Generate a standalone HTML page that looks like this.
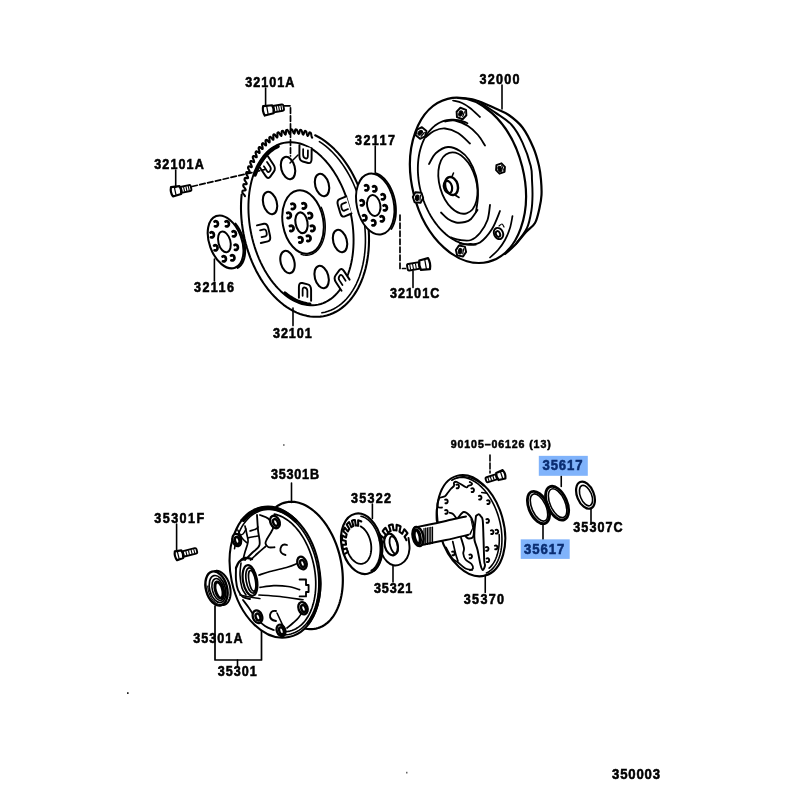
<!DOCTYPE html>
<html><head><meta charset="utf-8">
<style>
html,body{margin:0;padding:0;background:#fff;width:800px;height:800px;overflow:hidden}
svg{display:block}
.t{font-family:"Liberation Sans",sans-serif;font-weight:bold;font-size:13px;fill:#111}
</style></head><body>
<svg style="will-change:transform" width="800" height="800" viewBox="0 0 800 800">
<g stroke="#000" fill="none" stroke-linecap="round" stroke-linejoin="round">
<path d="M315.16 135.26 L318.48 136.99 L321.76 138.95 L325.00 141.16 L328.17 143.59 L331.29 146.24 L334.33 149.11 L337.29 152.19 L340.16 155.46 L342.93 158.93 L345.60 162.57 L348.16 166.38 L350.59 170.35 L352.90 174.47 L355.07 178.73 L357.10 183.11 L358.99 187.60 L360.73 192.20 L362.32 196.88 L363.74 201.63 L365.00 206.45 L366.10 211.31 L367.02 216.21 L367.77 221.12 L368.35 226.04 L368.75 230.96 L368.98 235.86 L369.02 240.72 L368.89 245.53 L368.58 250.28 L368.09 254.96 L367.43 259.55 L366.59 264.04 L365.59 268.42 L364.41 272.67 L363.07 276.78 L361.57 280.75 L359.90 284.56 L358.09 288.19 L356.13 291.65 L354.03 294.92 L351.79 297.99 L349.42 300.85 L346.92 303.50 L344.31 305.92 L341.60 308.12 L338.77 310.08 L335.86 311.79 L332.86 313.27 L329.78 314.49 L326.63 315.46 L323.42 316.18 L320.17 316.63 L316.86 316.83 L313.53 316.77 L310.17 316.45 L306.80 315.86 L303.42 315.03 L300.05 313.94 L296.69 312.59 L293.36 311.00 L290.05 309.17 L286.79 307.09 L283.58 304.79 L280.43 302.25 L277.34 299.50 L274.34 296.54 L271.42 293.38 L268.59 290.01 L265.86 286.47 L263.25 282.75 L260.74 278.86 L258.37 274.82 L256.12 270.64 L254.00 266.33 L252.03 261.90 L250.21 257.36 L248.54 252.72 L247.03 248.01 L245.67 243.23 L244.49 238.39 L243.47 233.51 L242.62 228.60 L241.95 223.68 L241.45 218.76 L241.13 213.85 L240.98 208.97 L241.01 204.13 L241.23 199.34 L241.62 194.62" stroke-width="2.07" />
<path d="M319.40 141.63 L322.45 143.67 L325.46 145.92 L328.41 148.39 L331.29 151.06 L334.10 153.94 L336.84 157.00 L339.48 160.24 L342.03 163.66 L344.48 167.24 L346.82 170.98 L349.05 174.86 L351.16 178.88 L353.14 183.01 L354.98 187.26 L356.69 191.61 L358.26 196.04 L359.69 200.55 L360.96 205.12 L362.08 209.75 L363.04 214.41 L363.85 219.09 L364.49 223.79 L364.97 228.49 L365.28 233.17 L365.43 237.82 L365.42 242.44 L365.24 247.01 L364.89 251.51 L364.38 255.93 L363.71 260.27 L362.87 264.50 L361.88 268.62 L360.73 272.62 L359.43 276.49 L357.98 280.20 L356.38 283.77 L354.65 287.16 L352.78 290.39 L350.77 293.43 L348.64 296.28 L346.39 298.93 L344.03 301.37 L341.56 303.60 L338.99 305.61 L336.33 307.39 L333.58 308.94 L330.76 310.26 L327.86 311.35 L324.90 312.19 L321.88 312.79" stroke-width="1.59" />
<path d="M244.94 196.21 L244.64 195.41 L243.77 194.33 L242.68 193.12 L242.32 192.25 L242.40 191.59 L242.48 190.93 L242.99 190.50 L244.22 190.47 L245.24 190.35 L245.68 189.93 L245.42 189.10 L244.59 187.94 L243.55 186.63 L243.23 185.73 L243.34 185.09 L243.46 184.45 L243.99 184.09 L245.24 184.20 L246.28 184.19 L246.74 183.83 L246.52 182.99 L245.74 181.75 L244.76 180.34 L244.49 179.43 L244.63 178.81 L244.78 178.19 L245.34 177.89 L246.60 178.14 L247.64 178.25 L248.13 177.95 L247.95 177.10 L247.23 175.79 L246.30 174.30 L246.07 173.36 L246.25 172.77 L246.43 172.18 L247.01 171.95 L248.27 172.34 L249.32 172.57 L249.83 172.32 L249.69 171.46 L249.03 170.10 L248.17 168.52 L247.99 167.58 L248.19 167.02 L248.41 166.46 L249.01 166.30 L250.26 166.82 L251.31 167.16 L251.84 166.97 L251.74 166.11 L251.14 164.70 L250.35 163.05 L250.21 162.10 L250.45 161.57 L250.70 161.05 L251.31 160.96 L252.55 161.61 L253.59 162.06 L254.14 161.94 L254.09 161.08 L253.55 159.62 L252.84 157.92 L252.75 156.97 L253.01 156.47 L253.29 155.98 L253.91 155.96 L255.13 156.74 L256.16 157.30 L256.72 157.24 L256.71 156.40 L256.24 154.90 L255.61 153.14 L255.57 152.20 L255.86 151.74 L256.16 151.29 L256.80 151.34 L257.99 152.25 L259.00 152.91 L259.57 152.92 L259.60 152.08 L259.21 150.56 L258.66 148.76 L258.66 147.82 L258.98 147.41 L259.31 147.00 L259.95 147.12 L261.11 148.14 L262.10 148.91 L262.67 148.98 L262.75 148.16 L262.42 146.62 L261.96 144.79 L262.01 143.87 L262.36 143.50 L262.71 143.13 L263.35 143.32 L264.47 144.46 L265.43 145.33 L266.01 145.46 L266.12 144.66 L265.87 143.10 L265.50 141.25 L265.60 140.35 L265.97 140.03 L266.34 139.71 L266.98 139.96 L268.05 141.21 L268.98 142.17 L269.56 142.36 L269.72 141.59 L269.54 140.04 L269.26 138.17 L269.40 137.30 L269.79 137.02 L270.19 136.74 L270.82 137.07 L271.84 138.41 L272.73 139.47 L273.30 139.72 L273.50 138.98 L273.41 137.43 L273.21 135.56 L273.40 134.72 L273.81 134.49 L274.23 134.26 L274.85 134.65 L275.81 136.09 L276.66 137.23 L277.23 137.54 L277.46 136.83 L277.45 135.30 L277.35 133.44 L277.58 132.63 L278.01 132.45 L278.44 132.28 L279.04 132.73 L279.95 134.25 L280.74 135.46 L281.30 135.84 L281.58 135.17 L281.64 133.65 L281.63 131.82 L281.91 131.05 L282.35 130.92 L282.79 130.79 L283.38 131.31 L284.22 132.91 L284.96 134.19 L285.51 134.61 L285.82 133.99 L285.96 132.51 L286.05 130.70 L286.37 129.98 L286.82 129.90 L287.27 129.82 L287.84 130.39 L288.60 132.06 L289.29 133.40 L289.82 133.89 L290.17 133.31 L290.39 131.86 L290.57 130.09 L290.93 129.42 L291.39 129.39 L291.85 129.37 L292.40 130.00 L293.08 131.72 L293.71 133.12 L294.22 133.65 L294.60 133.12 L294.89 131.73 L295.16 130.01 L295.56 129.38 L296.03 129.41 L296.50 129.44 L297.02 130.12 L297.63 131.89 L298.19 133.33 L298.68 133.92 L299.09 133.44 L299.46 132.10 L299.82 130.44 L300.25 129.87 L300.72 129.94 L301.20 130.03 L301.69 130.75 L302.21 132.56 L302.71 134.05 L303.17 134.68 L303.61 134.25 L304.05 132.97 L304.50 131.38 L304.97 130.87 L305.44 131.00 L305.91 131.13 L306.38 131.90 L306.81 133.74 L307.24 135.26 L307.67 135.93 L308.14 135.56 L308.65 134.35 L309.19 132.83 L309.68 132.38 L310.16 132.56 L310.63 132.75 L311.05 133.56 L311.40 135.42 L311.75 136.95 L312.16 137.66" stroke-width="2.07"/>
<path d="M350.69 213.19 L351.52 217.44 L352.21 221.70 L352.77 225.97 L353.18 230.24 L353.45 234.48 L353.57 238.70 L353.55 242.88 L353.39 247.00 L353.08 251.06 L352.63 255.05 L352.04 258.95 L351.31 262.75 L350.44 266.45 L349.43 270.03 L348.29 273.48 L347.03 276.80 L345.63 279.97 L344.12 282.99 L342.48 285.84 L340.74 288.52 L338.88 291.03 L336.92 293.35 L334.86 295.48 L332.71 297.42 L330.47 299.15 L328.15 300.68 L325.76 301.99 L323.29 303.10 L320.77 303.98 L318.19 304.64 L315.57 305.08 L312.91 305.30 L310.21 305.30 L307.49 305.07 L304.75 304.62 L302.00 303.95 L299.24 303.05 L296.50 301.95 L293.76 300.62 L291.05 299.09 L288.36 297.34 L285.70 295.40 L283.09 293.26 L280.53 290.93 L278.02 288.42 L275.58 285.73 L273.20 282.87 L270.91 279.84 L268.69 276.67 L266.56 273.34 L264.53 269.89 L262.60 266.30 L260.77 262.60 L259.06 258.79 L257.45 254.89 L255.97 250.90 L254.61 246.84 L253.38 242.71 L252.28 238.53 L251.31 234.31 L250.48 230.06 L249.79 225.80 L249.23 221.53 L248.82 217.26 L248.55 213.02 L248.43 208.80 L248.45 204.62 L248.61 200.50 L248.92 196.44 L249.37 192.45 L249.96 188.55 L250.69 184.75 L251.56 181.05 L252.57 177.47 L253.71 174.02 L254.97 170.70 L256.37 167.53 L257.88 164.51 L259.52 161.66 L261.26 158.98 L263.12 156.47 L265.08 154.15 L267.14 152.02 L269.29 150.08 L271.53 148.35 L273.85 146.82 L276.24 145.51 L278.71 144.40 L281.23 143.52 L283.81 142.86 L286.43 142.42 L289.09 142.20 L291.79 142.20 L294.51 142.43 L297.25 142.88 L300.00 143.55 L302.76 144.45 L305.50 145.55 L308.24 146.88 L310.95 148.41 L313.64 150.16 L316.30 152.10 L318.91 154.24 L321.47 156.57 L323.98 159.08 L326.42 161.77 L328.80 164.63 L331.09 167.66 L333.31 170.83 L335.44 174.16 L337.47 177.61 L339.40 181.20 L341.23 184.90 L342.94 188.71 L344.55 192.61 L346.03 196.60 L347.39 200.66 L348.62 204.79 L349.72 208.97 L350.69 213.19" stroke-width="1.95" />
<path d="M254.98 174.85 L256.26 171.48 L257.67 168.26 L259.21 165.21 L260.87 162.32 L262.65 159.62 L264.54 157.10 L266.54 154.77 L268.64 152.64 L270.83 150.73 L273.12 149.02 L275.49 147.53 L277.93 146.27" stroke-width="3.66" />
<path d="M309.88 304.05 L307.09 303.73 L304.29 303.17 L301.48 302.38 L298.67 301.36 L295.86 300.11 L293.08 298.63 L290.32 296.93 L287.59 295.01 L284.91 292.88" stroke-width="3.17" />
<ellipse cx="288.00" cy="168.00" rx="6.80" ry="11.50" transform="rotate(-15.00 288.00 168.00)" stroke-width="2.07" />
<ellipse cx="322.00" cy="185.00" rx="6.80" ry="11.50" transform="rotate(-15.00 322.00 185.00)" stroke-width="2.07" />
<ellipse cx="270.00" cy="203.00" rx="6.80" ry="11.50" transform="rotate(-15.00 270.00 203.00)" stroke-width="2.07" />
<ellipse cx="340.00" cy="241.00" rx="6.80" ry="11.50" transform="rotate(-15.00 340.00 241.00)" stroke-width="2.07" />
<ellipse cx="287.50" cy="262.00" rx="6.80" ry="11.50" transform="rotate(-15.00 287.50 262.00)" stroke-width="2.07" />
<ellipse cx="321.60" cy="277.00" rx="6.80" ry="11.50" transform="rotate(-15.00 321.60 277.00)" stroke-width="2.07" />
<ellipse cx="303.00" cy="222.00" rx="20.30" ry="32.00" transform="rotate(-10.00 303.00 222.00)" stroke-width="1.95" />
<path d="M321.18 207.16 L321.83 208.75 L322.43 210.37 L322.98 212.03 L323.46 213.71 L323.90 215.42 L324.27 217.15 L324.58 218.88 L324.84 220.63 L325.03 222.38 L325.16 224.14 L325.23 225.88 L325.24 227.61 L325.18 229.33 L325.07 231.03 L324.89 232.70 L324.65 234.35 L324.36 235.96 L324.00 237.52 L323.58 239.05 L323.11 240.53 L322.58 241.96 L322.00 243.33 L321.36 244.64 L320.67 245.89 L319.93 247.08 L319.15 248.19 L318.32 249.23 L317.45 250.19 L316.54 251.08 L315.59 251.89 L314.60 252.61 L313.58 253.24 L312.54 253.79 L311.47 254.26 L310.37 254.63 L309.25 254.91 L308.12 255.10 L306.97 255.19 L305.81 255.20 L304.64 255.11 L303.47 254.93 L302.30 254.66 L301.12 254.30" stroke-width="1.46" />
<ellipse cx="301.50" cy="222.75" rx="6.00" ry="10.50" transform="rotate(-10.00 301.50 222.75)" stroke-width="2.07" />
<path d="M291.43 203.98 a2.42 2.73 0 1 1 0.42 4.94" stroke-width="2.81" />
<path d="M302.43 203.48 a2.42 2.73 0 1 1 0.42 4.94" stroke-width="2.81" />
<path d="M308.43 213.23 a2.42 2.73 0 1 1 0.42 4.94" stroke-width="2.81" />
<path d="M310.93 225.98 a2.42 2.73 0 1 1 0.42 4.94" stroke-width="2.81" />
<path d="M306.93 235.98 a2.42 2.73 0 1 1 0.42 4.94" stroke-width="2.81" />
<path d="M298.93 237.48 a2.42 2.73 0 1 1 0.42 4.94" stroke-width="2.81" />
<path d="M289.93 225.98 a2.42 2.73 0 1 1 0.42 4.94" stroke-width="2.81" />
<path d="M287.23 212.98 a2.42 2.73 0 1 1 0.42 4.94" stroke-width="2.81" />
<g transform="translate(305.00 223.50) rotate(-12.00) scale(0.659 1) translate(22.51 -67.39) rotate(18.47)">
<path vector-effect="non-scaling-stroke" d="M-9.0 -8.0 L-9.0 3.0 Q-9.0 8.0 -4.0 8.0 L4.0 8.0 Q9.0 8.0 9.0 3.0 L9.0 -8.0" stroke-width="1.95" fill="#fff"/>
<path vector-effect="non-scaling-stroke" d="M-3.5 -5.0 L-3.5 1 Q-3.5 4 0 4 Q3.5 4 3.5 1 L3.5 -5.0" stroke-width="1.76"/>
</g>
<g transform="translate(305.00 223.50) rotate(-12.00) scale(0.659 1) translate(-37.41 -61.98) rotate(-31.11)">
<path vector-effect="non-scaling-stroke" d="M-9.0 -8.0 L-9.0 3.0 Q-9.0 8.0 -4.0 8.0 L4.0 8.0 Q9.0 8.0 9.0 3.0 L9.0 -8.0" stroke-width="1.95" fill="#fff"/>
<path vector-effect="non-scaling-stroke" d="M-3.5 -5.0 L-3.5 1 Q-3.5 4 0 4 Q3.5 4 3.5 1 L3.5 -5.0" stroke-width="1.76"/>
</g>
<g transform="translate(305.00 223.50) rotate(-12.00) scale(0.659 1) translate(63.09 -8.03) rotate(82.75)">
<path vector-effect="non-scaling-stroke" d="M-9.0 -8.0 L-9.0 3.0 Q-9.0 8.0 -4.0 8.0 L4.0 8.0 Q9.0 8.0 9.0 3.0 L9.0 -8.0" stroke-width="1.95" fill="#fff"/>
<path vector-effect="non-scaling-stroke" d="M-3.5 -5.0 L-3.5 1 Q-3.5 4 0 4 Q3.5 4 3.5 1 L3.5 -5.0" stroke-width="1.76"/>
</g>
<g transform="translate(305.00 223.50) rotate(-12.00) scale(0.659 1) translate(-63.85 0.77) rotate(-90.69)">
<path vector-effect="non-scaling-stroke" d="M-9.0 -8.0 L-9.0 3.0 Q-9.0 8.0 -4.0 8.0 L4.0 8.0 Q9.0 8.0 9.0 3.0 L9.0 -8.0" stroke-width="1.95" fill="#fff"/>
<path vector-effect="non-scaling-stroke" d="M-3.5 -5.0 L-3.5 1 Q-3.5 4 0 4 Q3.5 4 3.5 1 L3.5 -5.0" stroke-width="1.76"/>
</g>
<g transform="translate(305.00 223.50) rotate(-12.00) scale(0.659 1) translate(36.67 61.88) rotate(149.35)">
<path vector-effect="non-scaling-stroke" d="M-9.0 -8.0 L-9.0 3.0 Q-9.0 8.0 -4.0 8.0 L4.0 8.0 Q9.0 8.0 9.0 3.0 L9.0 -8.0" stroke-width="1.95" fill="#fff"/>
<path vector-effect="non-scaling-stroke" d="M-3.5 -5.0 L-3.5 1 Q-3.5 4 0 4 Q3.5 4 3.5 1 L3.5 -5.0" stroke-width="1.76"/>
</g>
<g transform="translate(305.00 223.50) rotate(-12.00) scale(0.659 1) translate(-21.45 66.51) rotate(-162.12)">
<path vector-effect="non-scaling-stroke" d="M-9.0 -8.0 L-9.0 3.0 Q-9.0 8.0 -4.0 8.0 L4.0 8.0 Q9.0 8.0 9.0 3.0 L9.0 -8.0" stroke-width="1.95" fill="#fff"/>
<path vector-effect="non-scaling-stroke" d="M-3.5 -5.0 L-3.5 1 Q-3.5 4 0 4 Q3.5 4 3.5 1 L3.5 -5.0" stroke-width="1.76"/>
</g>
<line x1="290.00" y1="163.00" x2="298.00" y2="155.00" stroke-width="1.46" />
<g transform="translate(263.00 111.00) rotate(-10.00)">
<rect x="9.00" y="-3.20" width="12.00" height="6.40" rx="1.5" stroke-width="1.87" fill="#fff"/>
<line x1="11.50" y1="-2.20" x2="11.50" y2="2.20" stroke-width="1.10" />
<line x1="13.88" y1="-2.20" x2="13.88" y2="2.20" stroke-width="1.10" />
<line x1="16.25" y1="-2.20" x2="16.25" y2="2.20" stroke-width="1.10" />
<line x1="18.62" y1="-2.20" x2="18.62" y2="2.20" stroke-width="1.10" />
<path d="M1 -4.80 Q-1 0 1 4.80 L10.00 4.08 Q11.50 0 10.00 -4.08 Z" stroke-width="2.20" fill="#fff"/>
<line x1="4.50" y1="-4.20" x2="4.50" y2="4.20" stroke-width="1.22" />
</g>
<line x1="265.60" y1="88.00" x2="265.60" y2="106.00" stroke-width="1.59" />
<path d="M284.5 105.8 H290.5 V156" stroke-width="1.71" stroke-dasharray="5.5 2.5"/>
<g transform="translate(171.00 192.00) rotate(-12.00)">
<rect x="8.50" y="-3.00" width="12.00" height="6.00" rx="1.5" stroke-width="1.87" fill="#fff"/>
<line x1="11.00" y1="-2.00" x2="11.00" y2="2.00" stroke-width="1.10" />
<line x1="13.38" y1="-2.00" x2="13.38" y2="2.00" stroke-width="1.10" />
<line x1="15.75" y1="-2.00" x2="15.75" y2="2.00" stroke-width="1.10" />
<line x1="18.12" y1="-2.00" x2="18.12" y2="2.00" stroke-width="1.10" />
<path d="M1 -4.80 Q-1 0 1 4.80 L9.50 4.08 Q11.00 0 9.50 -4.08 Z" stroke-width="2.20" fill="#fff"/>
<line x1="4.28" y1="-4.20" x2="4.28" y2="4.20" stroke-width="1.22" />
</g>
<line x1="175.70" y1="170.00" x2="175.70" y2="187.50" stroke-width="1.59" />
<path d="M192 186.5 L265 169.5" stroke-width="1.71" stroke-dasharray="5.5 2.5"/>
<ellipse cx="225.60" cy="241.90" rx="16.20" ry="27.50" transform="rotate(-20.00 225.60 241.90)" stroke-width="2.07" />
<path d="M235.45 223.67 L236.29 224.76 L237.11 225.89 L237.90 227.07 L238.66 228.29 L239.38 229.55 L240.07 230.84 L240.72 232.16 L241.33 233.51 L241.90 234.88 L242.43 236.28 L242.91 237.68 L243.35 239.10 L243.74 240.53 L244.09 241.96 L244.38 243.39 L244.63 244.82 L244.82 246.24 L244.96 247.65 L245.06 249.04 L245.10 250.41 L245.09 251.76 L245.03 253.08 L244.91 254.37 L244.75 255.62 L244.53 256.84 L244.27 258.01 L243.95 259.14 L243.59 260.22 L243.18 261.25 L242.72 262.23 L242.22 263.14 L241.68 264.00 L241.09 264.80 L240.46 265.54 L239.80 266.21 L239.09 266.81 L238.35 267.34 L237.58 267.80" stroke-width="2.07" />
<ellipse cx="224.40" cy="241.90" rx="6.00" ry="10.60" transform="rotate(-15.00 224.40 241.90)" stroke-width="1.95" />
<path d="M214.50 221.60 a2.30 2.60 0 1 1 0.40 4.70" stroke-width="2.68" />
<path d="M225.50 221.60 a2.30 2.60 0 1 1 0.40 4.70" stroke-width="2.68" />
<path d="M232.50 231.60 a2.30 2.60 0 1 1 0.40 4.70" stroke-width="2.68" />
<path d="M234.50 245.10 a2.30 2.60 0 1 1 0.40 4.70" stroke-width="2.68" />
<path d="M231.00 255.60 a2.30 2.60 0 1 1 0.40 4.70" stroke-width="2.68" />
<path d="M222.50 256.60 a2.30 2.60 0 1 1 0.40 4.70" stroke-width="2.68" />
<path d="M214.10 245.60 a2.30 2.60 0 1 1 0.40 4.70" stroke-width="2.68" />
<path d="M210.50 232.60 a2.30 2.60 0 1 1 0.40 4.70" stroke-width="2.68" />
<line x1="214.40" y1="259.00" x2="214.40" y2="281.00" stroke-width="1.59" />
<ellipse cx="375.25" cy="204.00" rx="18.50" ry="31.00" transform="rotate(-12.00 375.25 204.00)" stroke-width="1.95" fill="#fff"/>
<path d="M376.39 173.42 L377.43 173.83 L378.47 174.32 L379.50 174.89 L380.52 175.55 L381.53 176.28 L382.53 177.10 L383.51 177.98 L384.46 178.94 L385.40 179.97 L386.31 181.07 L387.19 182.23 L388.04 183.45 L388.86 184.72 L389.64 186.05 L390.38 187.44 L391.09 188.86 L391.75 190.33 L392.38 191.84 L392.95 193.38 L393.48 194.95 L393.97 196.55 L394.40 198.16 L394.78 199.80 L395.11 201.44 L395.39 203.09 L395.61 204.75 L395.79 206.40 L395.90 208.05 L395.96 209.68 L395.97 211.30 L395.92 212.90 L395.82 214.47 L395.67 216.01 L395.45 217.52 L395.19 219.00 L394.87 220.43 L394.50 221.81 L394.08 223.15 L393.61 224.43 L393.10 225.66 L392.53 226.83 L391.92 227.93 L391.27 228.96" stroke-width="1.83" />
<ellipse cx="373.75" cy="205.50" rx="6.60" ry="10.50" transform="rotate(-10.00 373.75 205.50)" stroke-width="1.95" />
<path d="M365.00 185.60 a2.30 2.60 0 1 1 0.40 4.70" stroke-width="2.68" />
<path d="M373.00 186.60 a2.30 2.60 0 1 1 0.40 4.70" stroke-width="2.68" />
<path d="M381.50 194.60 a2.30 2.60 0 1 1 0.40 4.70" stroke-width="2.68" />
<path d="M383.50 205.60 a2.30 2.60 0 1 1 0.40 4.70" stroke-width="2.68" />
<path d="M380.50 216.60 a2.30 2.60 0 1 1 0.40 4.70" stroke-width="2.68" />
<path d="M372.00 220.60 a2.30 2.60 0 1 1 0.40 4.70" stroke-width="2.68" />
<path d="M363.00 215.60 a2.30 2.60 0 1 1 0.40 4.70" stroke-width="2.68" />
<path d="M360.50 200.60 a2.30 2.60 0 1 1 0.40 4.70" stroke-width="2.68" />
<line x1="375.25" y1="146.00" x2="375.25" y2="173.00" stroke-width="1.59" />
<g transform="translate(430.00 263.50) rotate(170.00)">
<rect x="9.00" y="-3.30" width="14.00" height="6.60" rx="1.5" stroke-width="1.87" fill="#fff"/>
<line x1="11.50" y1="-2.30" x2="11.50" y2="2.30" stroke-width="1.10" />
<line x1="14.38" y1="-2.30" x2="14.38" y2="2.30" stroke-width="1.10" />
<line x1="17.25" y1="-2.30" x2="17.25" y2="2.30" stroke-width="1.10" />
<line x1="20.12" y1="-2.30" x2="20.12" y2="2.30" stroke-width="1.10" />
<path d="M1 -5.60 Q-1 0 1 5.60 L10.00 4.76 Q11.50 0 10.00 -4.76 Z" stroke-width="2.20" fill="#fff"/>
<line x1="4.50" y1="-5.00" x2="4.50" y2="5.00" stroke-width="1.22" />
</g>
<path d="M400 215 V268.5 H405.5" stroke-width="1.71" stroke-dasharray="5.5 2.5"/>
<line x1="413.00" y1="271.00" x2="413.00" y2="287.50" stroke-width="1.59" />
<line x1="293.00" y1="308.00" x2="293.00" y2="325.60" stroke-width="1.59" />
<path d="M458.00 98.00 C460.83 98.33 468.83 98.29 475.00 100.00 C481.17 101.71 489.38 105.75 495.00 108.25 C500.62 110.75 504.17 111.79 508.75 115.00 C513.33 118.21 518.38 122.00 522.50 127.50 C526.62 133.00 530.75 141.58 533.50 148.00 C536.25 154.42 537.75 160.67 539.00 166.00 C540.25 171.33 540.58 175.17 541.00 180.00 C541.42 184.83 541.75 190.33 541.50 195.00 C541.25 199.67 540.58 203.33 539.50 208.00 C538.42 212.67 537.25 219.00 535.00 223.00 C532.75 227.00 529.33 228.33 526.00 232.00 C522.67 235.67 518.50 241.33 515.00 245.00 C511.50 248.67 506.67 252.50 505.00 254.00" stroke-width="2.20" />
<path d="M478.00 101.00 C480.83 102.90 489.42 108.44 495.00 112.40 C500.58 116.36 506.92 119.72 511.50 124.75 C516.08 129.78 519.29 135.72 522.50 142.60 C525.71 149.47 529.17 159.77 530.75 166.00 C532.33 172.23 531.71 175.17 532.00 180.00 C532.29 184.83 532.58 190.00 532.50 195.00 C532.42 200.00 532.42 204.50 531.50 210.00 C530.58 215.50 529.58 222.33 527.00 228.00 C524.42 233.67 517.83 241.33 516.00 244.00" stroke-width="1.95" />
<ellipse cx="467.98" cy="180.37" rx="55.94" ry="84.02" transform="rotate(-14.00 467.98 180.37)" stroke-width="2.20" />
<path d="M475.80 244.68 L473.57 244.91 L471.31 244.96 L469.02 244.85 L466.71 244.56 L464.39 244.10 L462.06 243.47 L459.74 242.66 L457.41 241.70 L455.11 240.56 L452.82 239.27 L450.56 237.82 L448.32 236.21 L446.13 234.46 L443.98 232.56 L441.89 230.52 L439.84 228.35 L437.86 226.05 L435.95 223.63 L434.11 221.09 L432.34 218.45 L430.66 215.71 L429.07 212.87 L427.57 209.95 L426.16 206.96 L424.85 203.89 L423.65 200.77 L422.55 197.60 L421.56 194.38 L420.68 191.13 L419.92 187.85 L419.27 184.56 L418.75 181.27 L418.34 177.97 L418.06 174.69 L417.89 171.43 L417.85 168.20 L417.93 165.01 L418.13 161.86 L418.46 158.77 L418.91 155.75 L419.47 152.80 L420.15 149.94 L420.95 147.16 L421.87 144.48 L422.89 141.90 L424.03 139.44 L425.26 137.10 L426.60 134.88 L428.04 132.79 L429.58 130.83 L431.20 129.03 L432.91 127.36 L434.70 125.85 L436.56 124.50 L438.50 123.31 L440.50 122.28 L442.56 121.41 L444.68 120.72 L446.84 120.19 L449.05 119.84 L451.29 119.66 L453.56 119.65 L455.86 119.82 L458.17 120.16 L460.49 120.67 L462.82 121.35 L465.15 122.20 L467.46 123.22" stroke-width="1.83" />
<path d="M453.00 100.50 C454.50 100.92 459.17 101.75 462.00 103.00 C464.83 104.25 467.00 105.67 470.00 108.00 C473.00 110.33 478.33 115.50 480.00 117.00" stroke-width="1.71" />
<path d="M426.00 137.00 C427.33 136.00 430.83 132.42 434.00 131.00 C437.17 129.58 441.00 128.17 445.00 128.50 C449.00 128.83 453.83 130.50 458.00 133.00 C462.17 135.50 468.00 141.75 470.00 143.50" stroke-width="1.83" />
<path d="M445.00 121.50 C446.67 121.33 451.17 119.75 455.00 120.50 C458.83 121.25 464.17 123.58 468.00 126.00 C471.83 128.42 475.17 131.75 478.00 135.00 C480.83 138.25 483.83 143.75 485.00 145.50" stroke-width="1.83" />
<path d="M429.00 164.00 C430.17 162.17 432.83 155.83 436.00 153.00 C439.17 150.17 444.00 147.33 448.00 147.00 C452.00 146.67 456.50 148.83 460.00 151.00 C463.50 153.17 466.33 155.83 469.00 160.00 C471.67 164.17 474.50 170.17 476.00 176.00 C477.50 181.83 478.00 189.00 478.00 195.00 C478.00 201.00 476.33 209.17 476.00 212.00" stroke-width="1.83" />
<ellipse cx="457.90" cy="183.10" rx="18.30" ry="31.40" transform="rotate(-16.00 457.90 183.10)" stroke-width="1.83" />
<path d="M441.00 212.50 C442.17 213.58 445.50 217.33 448.00 219.00 C450.50 220.67 453.17 222.00 456.00 222.50 C458.83 223.00 462.50 222.58 465.00 222.00 C467.50 221.42 468.92 221.00 471.00 219.00 C473.08 217.00 476.42 211.50 477.50 210.00" stroke-width="1.83" />
<path d="M451.00 237.50 C452.50 237.92 456.67 239.58 460.00 240.00 C463.33 240.42 467.67 241.17 471.00 240.00 C474.33 238.83 477.25 236.33 480.00 233.00 C482.75 229.67 485.83 224.67 487.50 220.00 C489.17 215.33 489.58 207.50 490.00 205.00" stroke-width="1.83" />
<path d="M460.00 243.75 C461.67 243.79 466.67 244.21 470.00 244.00 C473.33 243.79 476.33 245.00 480.00 242.50 C483.67 240.00 488.67 234.25 492.00 229.00 C495.33 223.75 498.67 214.00 500.00 211.00" stroke-width="1.83" />
<path d="M490.00 257.50 C491.33 256.25 495.50 252.92 498.00 250.00 C500.50 247.08 503.00 243.67 505.00 240.00 C507.00 236.33 508.75 232.00 510.00 228.00 C511.25 224.00 512.08 218.00 512.50 216.00" stroke-width="1.71" />
<ellipse cx="451.50" cy="186.00" rx="6.30" ry="9.20" transform="rotate(-15.00 451.50 186.00)" stroke-width="2.44" fill="#fff"/>
<ellipse cx="448.00" cy="187.00" rx="4.00" ry="6.30" transform="rotate(-15.00 448.00 187.00)" stroke-width="2.20" />
<line x1="452.00" y1="176.50" x2="453.50" y2="173.00" stroke-width="1.59" />
<line x1="455.00" y1="195.00" x2="459.00" y2="197.50" stroke-width="1.59" />
<g transform="translate(461.5 113.5) rotate(20.0)">
<path d="M-3.0 -5.0 L3.0 -5.0 L5.2 0 L3.0 5.0 L-3.0 5.0 L-5.2 0 Z" stroke-width="1.95" fill="#fff"/>
<ellipse cx="-0.8" cy="0.3" rx="1.8" ry="2.8" fill="#000" stroke-width="0.98"/>
<path d="M2.2 -2.5 v5" stroke-width="1.22" />
</g>
<g transform="translate(421.0 133.0) rotate(40.0)">
<path d="M-3.0 -5.0 L3.0 -5.0 L5.2 0 L3.0 5.0 L-3.0 5.0 L-5.2 0 Z" stroke-width="1.95" fill="#fff"/>
<ellipse cx="-0.8" cy="0.3" rx="1.8" ry="2.8" fill="#000" stroke-width="0.98"/>
<path d="M2.2 -2.5 v5" stroke-width="1.22" />
</g>
<g transform="translate(418.0 197.5) rotate(5.0)">
<path d="M-3.0 -5.0 L3.0 -5.0 L5.2 0 L3.0 5.0 L-3.0 5.0 L-5.2 0 Z" stroke-width="1.95" fill="#fff"/>
<ellipse cx="-0.8" cy="0.3" rx="1.8" ry="2.8" fill="#000" stroke-width="0.98"/>
<path d="M2.2 -2.5 v5" stroke-width="1.22" />
</g>
<g transform="translate(461.0 251.0) rotate(10.0)">
<path d="M-3.0 -5.0 L3.0 -5.0 L5.2 0 L3.0 5.0 L-3.0 5.0 L-5.2 0 Z" stroke-width="1.95" fill="#fff"/>
<ellipse cx="-0.8" cy="0.3" rx="1.8" ry="2.8" fill="#000" stroke-width="0.98"/>
<path d="M2.2 -2.5 v5" stroke-width="1.22" />
</g>
<g transform="translate(500.5 168.5) rotate(-20.0)">
<path d="M-2.7 -4.5 L2.7 -4.5 L4.7 0 L2.7 4.5 L-2.7 4.5 L-4.7 0 Z" stroke-width="1.95" fill="#fff"/>
<ellipse cx="-0.8" cy="0.3" rx="1.8" ry="2.8" fill="#000" stroke-width="0.98"/>
<path d="M2.2 -2.5 v5" stroke-width="1.22" />
</g>
<ellipse cx="498.50" cy="233.50" rx="4.50" ry="5.80" transform="rotate(-25.00 498.50 233.50)" stroke-width="1.95" fill="#fff"/>
<ellipse cx="498.00" cy="234.00" rx="2.00" ry="3.00" transform="rotate(-25.00 498.00 234.00)" stroke-width="1.95" />
<path d="M499.00 226.00 C499.50 225.67 501.17 223.83 502.00 224.00 C502.83 224.17 503.67 226.50 504.00 227.00" stroke-width="1.22" />
<line x1="502.00" y1="85.00" x2="502.00" y2="109.00" stroke-width="1.59" />
<path d="M276.38 506.70 L278.19 505.49 L280.05 504.45 L281.98 503.57 L283.96 502.86 L285.98 502.33 L288.04 501.97 L290.14 501.78 L292.27 501.77 L294.43 501.93 L296.60 502.26 L298.78 502.77 L300.97 503.45 L303.16 504.30 L305.34 505.32 L307.52 506.50 L309.67 507.85 L311.80 509.35 L313.90 511.00 L315.97 512.81 L317.99 514.76 L319.97 516.85 L321.89 519.07 L323.76 521.42 L325.57 523.89 L327.31 526.47 L328.97 529.16 L330.56 531.95 L332.07 534.84 L333.50 537.80 L334.83 540.84 L336.07 543.95 L337.22 547.12 L338.27 550.34 L339.21 553.60 L340.05 556.89 L340.78 560.21 L341.41 563.54 L341.92 566.87 L342.32 570.20 L342.61 573.52 L342.78 576.82 L342.84 580.08 L342.78 583.31 L342.61 586.49 L342.33 589.60 L341.93 592.66 L341.42 595.64 L340.80 598.53 L340.07 601.34 L339.23 604.04 L338.29 606.64 L337.25 609.13 L336.11 611.50 L334.87 613.74 L333.53 615.85 L332.11 617.82 L330.61 619.65 L329.02 621.33 L327.35 622.85 L325.62 624.22 L323.81 625.43 L321.95 626.47 L320.02 627.35 L318.04 628.06 L316.02 628.59 L313.96 628.95 L311.86 629.14 L309.73 629.15 L307.57 628.99 L305.40 628.66" stroke-width="2.20" />
<ellipse cx="275.04" cy="572.21" rx="44.23" ry="66.30" transform="rotate(-12.00 275.04 572.21)" stroke-width="2.07" fill="#fff"/>
<path d="M243.37 520.18 L245.07 518.23 L246.85 516.44 L248.71 514.81 L250.65 513.34 L252.65 512.03 L254.72 510.90 L256.85 509.93 L259.03 509.15 L261.26 508.54 L263.53 508.12 L265.82 507.87 L268.15 507.81 L270.50 507.93 L272.86 508.23 L275.22 508.71 L277.59 509.38 L279.95 510.22 L282.30 511.23 L284.63 512.42 L286.93 513.78 L289.20 515.30 L291.43 516.99 L293.62 518.83 L295.75 520.82" stroke-width="3.66" />
<path d="M234.54 548.61 L235.06 545.59 L235.70 542.65 L236.45 539.78 L237.30 537.01 L238.27 534.33 L239.34 531.75 L240.51 529.29 L241.78 526.95 L243.15 524.73 L244.60 522.65 L246.15 520.70 L247.78 518.89 L249.48 517.23 L251.26 515.72 L253.11 514.37 L255.02 513.17 L257.00 512.15 L259.02 511.28 L261.09 510.59 L263.21 510.06 L265.36 509.71 L267.54 509.53 L269.74 509.52 L271.97 509.69 L274.20 510.03 L276.44 510.54 L278.68 511.22 L280.91 512.07 L283.13 513.08 L285.33 514.26 L287.51 515.60 L289.65 517.10 L291.76 518.74 L293.82 520.54 L295.84 522.48 L297.80 524.55 L299.70 526.76 L301.54 529.10 L303.31 531.55 L305.00 534.11 L306.61 536.78 L308.14 539.55 L309.58 542.41 L310.93 545.35 L312.19 548.36 L313.34 551.44 L314.39 554.58 L315.34 557.77 L316.17 560.99 L316.90 564.25 L317.52 567.53 L318.02 570.82 L318.40 574.12 L318.67 577.41 L318.82 580.68 L318.86 583.94 L318.77 587.16 L318.57 590.34 L318.26 593.47 L317.82 596.54 L317.27 599.54 L316.61 602.47 L315.84 605.31 L314.95 608.07 L313.96 610.72 L312.87 613.27 L311.67 615.70 L310.38 618.01 L308.99 620.20 L307.51 622.26 L305.95 624.17 L304.30 625.94 L302.58 627.57 L300.78 629.04 L298.91 630.35 L296.99 631.51 L295.00 632.50 L292.97 633.32 L290.88 633.97 L288.76 634.46 L286.60 634.77 L284.41 634.91 L282.20 634.87" stroke-width="1.59" />
<path d="M274.38 514.18 L276.44 514.66 L278.51 515.31 L280.57 516.11 L282.61 517.08 L284.64 518.20 L286.65 519.48 L288.64 520.90 L290.58 522.47 L292.50 524.18 L294.36 526.03 L296.18 528.00 L297.94 530.11 L299.65 532.33 L301.29 534.67 L302.86 537.11 L304.35 539.65 L305.78 542.29 L307.12 545.01 L308.37 547.81 L309.54 550.67 L310.61 553.60 L311.59 556.59 L312.47 559.62 L313.25 562.68 L313.93 565.78 L314.51 568.89 L314.98 572.02 L315.34 575.14 L315.60 578.26 L315.75 581.37 L315.78 584.44 L315.71 587.49 L315.53 590.50 L315.24 593.45 L314.84 596.35 L314.34 599.18 L313.73 601.94 L313.01 604.61 L312.20 607.19 L311.29 609.68 L310.27 612.07 L309.17 614.34 L307.98 616.50 L306.69 618.53 L305.33 620.44 L303.88 622.21 L302.36 623.84 L300.76 625.33 L299.10 626.67 L297.38 627.86 L295.60 628.90 L293.77 629.77 L291.88 630.49 L289.96 631.05 L288.00 631.44 L286.01 631.66" stroke-width="1.71" />
<path d="M319.54 574.74 L319.80 578.26 L319.93 581.77 L319.93 585.25 L319.80 588.69 L319.53 592.08 L319.13 595.41 L318.61 598.67 L317.95 601.86 L317.17 604.96 L316.26 607.96 L315.23 610.86 L314.08 613.65 L312.82 616.31 L311.44 618.84 L309.96 621.23 L308.37 623.48" stroke-width="2.93" />
<path d="M257.00 515.00 C257.17 517.50 257.58 525.00 258.00 530.00 C258.42 535.00 260.50 541.17 259.50 545.00 C258.50 548.83 254.42 550.50 252.00 553.00 C249.58 555.50 246.17 558.83 245.00 560.00" stroke-width="1.83" />
<path d="M245.00 526.00 C245.33 527.50 246.50 532.33 247.00 535.00 C247.50 537.67 248.33 539.17 248.00 542.00 C247.67 544.83 245.83 549.00 245.00 552.00 C244.17 555.00 243.33 558.67 243.00 560.00" stroke-width="1.71" />
<path d="M237.75 530.00 C238.46 531.33 240.50 535.88 242.00 538.00 C243.50 540.12 245.96 541.96 246.75 542.75" stroke-width="1.59" />
<path d="M250.00 531.00 C251.00 530.67 254.67 529.67 256.00 529.00 C257.33 528.33 257.67 527.33 258.00 527.00" stroke-width="1.59" />
<path d="M237.00 536.00 C238.00 535.67 241.50 535.17 243.00 534.00 C244.50 532.83 245.50 529.83 246.00 529.00" stroke-width="1.46" />
<path d="M248.00 538.00 C248.67 537.83 250.33 537.33 252.00 537.00 C253.67 536.67 257.00 536.17 258.00 536.00" stroke-width="1.46" />
<path d="M260.00 515.00 C261.42 515.62 266.33 516.75 268.50 518.75 C270.67 520.75 272.50 524.88 273.00 527.00 C273.50 529.12 272.50 529.50 271.50 531.50 C270.50 533.50 268.00 537.00 267.00 539.00 C266.00 541.00 265.25 542.12 265.50 543.50 C265.75 544.88 267.00 546.62 268.50 547.25 C270.00 547.88 273.50 547.25 274.50 547.25" stroke-width="1.83" />
<path d="M265.50 546.50 C264.25 547.58 260.50 550.75 258.00 553.00 C255.50 555.25 251.75 558.83 250.50 560.00" stroke-width="1.71" />
<path d="M241.00 520.00 C241.83 519.33 244.17 517.00 246.00 516.00 C247.83 515.00 251.00 514.33 252.00 514.00" stroke-width="1.46" />
<ellipse cx="275.00" cy="522.00" rx="4.50" ry="6.50" transform="rotate(-25.00 275.00 522.00)" stroke-width="2.32" fill="#fff"/>
<ellipse cx="275.50" cy="522.50" rx="2.20" ry="3.60" transform="rotate(-25.00 275.50 522.50)" stroke-width="2.44" />
<ellipse cx="236.80" cy="540.00" rx="4.20" ry="6.30" transform="rotate(-15.00 236.80 540.00)" stroke-width="2.32" fill="#fff"/>
<ellipse cx="237.20" cy="540.50" rx="2.20" ry="3.60" transform="rotate(-15.00 237.20 540.50)" stroke-width="2.44" />
<path d="M287 545 q-5 -2 -6.5 3.5 q-1 5 5 6.5" stroke-width="1.83" />
<ellipse cx="250.00" cy="580.50" rx="7.00" ry="15.50" transform="rotate(-10.00 250.00 580.50)" stroke-width="2.20" />
<ellipse cx="251.20" cy="580.50" rx="5.00" ry="12.80" transform="rotate(-10.00 251.20 580.50)" stroke-width="1.71" />
<ellipse cx="252.20" cy="580.80" rx="3.20" ry="10.50" transform="rotate(-10.00 252.20 580.80)" stroke-width="1.59" />
<path d="M236.00 568.00 C236.50 567.00 237.50 563.67 239.00 562.00 C240.50 560.33 242.83 558.50 245.00 558.00 C247.17 557.50 250.83 558.83 252.00 559.00" stroke-width="2.32" />
<path d="M236.00 568.00 C236.00 570.00 235.67 576.33 236.00 580.00 C236.33 583.67 236.83 587.17 238.00 590.00 C239.17 592.83 241.00 595.50 243.00 597.00 C245.00 598.50 248.83 598.67 250.00 599.00" stroke-width="1.95" />
<path d="M241.00 563.00 C240.83 565.00 239.83 570.83 240.00 575.00 C240.17 579.17 241.00 584.67 242.00 588.00 C243.00 591.33 245.33 593.83 246.00 595.00" stroke-width="1.59" />
<path d="M259.00 575.00 C260.83 574.42 265.17 572.83 270.00 571.50 C274.83 570.17 283.50 568.33 288.00 567.00 C292.50 565.67 295.50 564.08 297.00 563.50" stroke-width="1.71" />
<path d="M260.00 587.40 C262.29 587.12 269.08 585.85 273.75 585.70 C278.42 585.55 283.69 585.85 288.00 586.50 C292.31 587.15 297.67 589.08 299.60 589.60" stroke-width="1.71" />
<path d="M259.00 595.00 C262.50 595.25 272.67 595.71 280.00 596.50 C287.33 597.29 299.17 599.21 303.00 599.75" stroke-width="1.71" />
<path d="M240.00 595.00 C241.67 595.33 246.67 596.40 250.00 597.00 C253.33 597.60 258.33 598.33 260.00 598.60" stroke-width="1.46" />
<path d="M299.60 579.50 L306.00 579.50 L306.00 585.00 L308.60 585.00 L308.60 592.00 L306.00 592.00 L306.00 596.40 L299.60 596.40" stroke-width="1.83" />
<ellipse cx="302.00" cy="563.00" rx="4.50" ry="6.50" transform="rotate(-20.00 302.00 563.00)" stroke-width="2.32" fill="#fff"/>
<ellipse cx="302.50" cy="563.50" rx="2.20" ry="3.60" transform="rotate(-20.00 302.50 563.50)" stroke-width="2.44" />
<path d="M243.00 600.00 C244.00 601.33 246.88 605.04 249.00 608.00 C251.12 610.96 253.08 614.75 255.75 617.75 C258.42 620.75 262.00 623.96 265.00 626.00 C268.00 628.04 272.29 629.33 273.75 630.00" stroke-width="1.83" />
<path d="M305.00 603.00 C304.50 604.50 303.08 609.54 302.00 612.00 C300.92 614.46 300.00 615.92 298.50 617.75 C297.00 619.58 294.92 621.29 293.00 623.00 C291.08 624.71 288.00 627.17 287.00 628.00" stroke-width="1.71" />
<ellipse cx="257.50" cy="616.70" rx="4.60" ry="6.50" transform="rotate(-20.00 257.50 616.70)" stroke-width="2.32" fill="#fff"/>
<ellipse cx="258.00" cy="617.00" rx="2.20" ry="3.60" transform="rotate(-20.00 258.00 617.00)" stroke-width="2.44" />
<ellipse cx="281.00" cy="630.40" rx="4.20" ry="6.00" transform="rotate(-20.00 281.00 630.40)" stroke-width="2.32" fill="#fff"/>
<ellipse cx="281.50" cy="630.80" rx="2.20" ry="3.60" transform="rotate(-20.00 281.50 630.80)" stroke-width="2.44" />
<ellipse cx="303.00" cy="608.20" rx="4.50" ry="6.30" transform="rotate(-20.00 303.00 608.20)" stroke-width="2.32" fill="#fff"/>
<ellipse cx="303.50" cy="608.50" rx="2.20" ry="3.60" transform="rotate(-20.00 303.50 608.50)" stroke-width="2.44" />
<path d="M276 611 q-5 -1 -6 4 q-0.5 5 6 6" stroke-width="1.83" />
<line x1="277.00" y1="613.00" x2="284.00" y2="628.00" stroke-width="1.59" />
<line x1="291.50" y1="483.00" x2="291.50" y2="502.50" stroke-width="1.59" />
<path d="M214.97 571.10 L215.51 570.98 L216.07 570.90 L216.63 570.88 L217.20 570.90 L217.78 570.97 L218.36 571.09 L218.95 571.26 L219.54 571.47 L220.13 571.73 L220.71 572.04 L221.29 572.39 L221.87 572.78 L222.44 573.22 L223.01 573.69 L223.56 574.21 L224.10 574.77 L224.63 575.36 L225.14 575.99 L225.64 576.65 L226.12 577.35 L226.58 578.07 L227.03 578.82 L227.45 579.60 L227.85 580.40 L228.22 581.22 L228.58 582.07 L228.90 582.92 L229.20 583.80 L229.47 584.68 L229.72 585.57 L229.93 586.47 L230.12 587.38 L230.28 588.28 L230.41 589.19 L230.50 590.09 L230.57 590.99 L230.60 591.87 L230.61 592.75 L230.58 593.62 L230.52 594.46 L230.43 595.29 L230.31 596.10 L230.16 596.89 L229.98 597.65 L229.77 598.38 L229.53 599.09 L229.26 599.77 L228.97 600.41 L228.65 601.01 L228.30 601.58 L227.93 602.12 L227.54 602.61 L227.12 603.06 L226.68 603.47 L226.23 603.84 L225.75 604.16 L225.25 604.44 L224.74 604.67 L224.22 604.85 L223.68 604.99 L223.13 605.08" stroke-width="2.07" />
<ellipse cx="216.50" cy="588.50" rx="10.50" ry="17.50" transform="rotate(-15.00 216.50 588.50)" stroke-width="2.44" fill="#fff"/>
<ellipse cx="217.50" cy="589.00" rx="7.80" ry="13.80" transform="rotate(-15.00 217.50 589.00)" stroke-width="1.71" />
<ellipse cx="218.20" cy="589.50" rx="5.80" ry="11.20" transform="rotate(-15.00 218.20 589.50)" stroke-width="1.59" />
<ellipse cx="219.00" cy="590.00" rx="3.60" ry="8.30" transform="rotate(-15.00 219.00 590.00)" stroke-width="2.93" />
<path d="M225.48 601.03 L225.17 601.52 L224.84 601.99 L224.49 602.41 L224.11 602.80 L223.72 603.15 L223.31 603.46 L222.89 603.73 L222.44 603.95 L221.99 604.14 L221.52 604.28 L221.04 604.38 L220.55 604.43 L220.06 604.45 L219.55 604.41 L219.04 604.34 L218.53 604.22 L218.01 604.06 L217.49 603.85 L216.97 603.61 L216.45 603.32 L215.94 602.99 L215.43 602.63 L214.92 602.22 L214.42 601.78 L213.93 601.30 L213.46 600.79 L212.99 600.24 L212.53 599.66 L212.09 599.05 L211.67 598.42 L211.26 597.75 L210.87 597.07 L210.50 596.35 L210.14 595.62 L209.81 594.87 L209.50 594.11 L209.21 593.32 L208.95 592.53 L208.71 591.73 L208.49 590.92 L208.30 590.10 L208.14 589.28 L208.00 588.46 L207.89 587.64 L207.81 586.83 L207.75 586.02" stroke-width="1.22" />
<g transform="translate(175.00 556.00) rotate(-14.00)">
<rect x="6.50" y="-2.80" width="16.00" height="5.60" rx="1.5" stroke-width="1.87" fill="#fff"/>
<line x1="9.00" y1="-1.80" x2="9.00" y2="1.80" stroke-width="1.10" />
<line x1="11.70" y1="-1.80" x2="11.70" y2="1.80" stroke-width="1.10" />
<line x1="14.40" y1="-1.80" x2="14.40" y2="1.80" stroke-width="1.10" />
<line x1="17.10" y1="-1.80" x2="17.10" y2="1.80" stroke-width="1.10" />
<line x1="19.80" y1="-1.80" x2="19.80" y2="1.80" stroke-width="1.10" />
<path d="M1 -4.60 Q-1 0 1 4.60 L7.50 3.91 Q9.00 0 7.50 -3.91 Z" stroke-width="2.20" fill="#fff"/>
<line x1="3.38" y1="-4.00" x2="3.38" y2="4.00" stroke-width="1.22" />
</g>
<line x1="176.60" y1="524.00" x2="176.60" y2="551.00" stroke-width="1.59" />
<path d="M215.00 606.00 L215.00 660.00 L261.50 660.00 L261.50 631.00" stroke-width="1.71" />
<line x1="237.50" y1="660.00" x2="237.50" y2="666.00" stroke-width="1.59" />
<ellipse cx="361.50" cy="543.75" rx="19.95" ry="30.60" transform="rotate(-11.60 361.50 543.75)" stroke-width="2.20" fill="#fff"/>
<path d="M360.98 516.25 L361.94 516.49 L362.90 516.80 L363.86 517.18 L364.81 517.64 L365.75 518.17 L366.68 518.77 L367.60 519.45 L368.50 520.18 L369.39 520.99 L370.26 521.85 L371.10 522.78 L371.92 523.77 L372.71 524.81 L373.47 525.90 L374.20 527.05 L374.90 528.24 L375.56 529.47 L376.19 530.75 L376.77 532.06 L377.32 533.40 L377.82 534.77 L378.28 536.17 L378.70 537.59 L379.06 539.03 L379.39 540.48 L379.66 541.94 L379.89 543.41 L380.07 544.88 L380.19 546.34 L380.27 547.80 L380.30 549.25 L380.28 550.69 L380.21 552.10 L380.08 553.50 L379.91 554.87 L379.69 556.21 L379.42 557.51 L379.11 558.78 L378.74 560.01 L378.33 561.20 L377.88 562.34 L377.38 563.42 L376.84 564.46 L376.26 565.44 L375.64 566.36 L374.98 567.22 L374.29 568.01 L373.56 568.74 L372.80 569.41 L372.02 570.00 L371.20 570.52" stroke-width="1.59" />
<path d="M379.61 534.74 L380.08 536.28 L380.50 537.84 L380.87 539.42 L381.18 541.01 L381.44 542.61 L381.64 544.21 L381.78 545.82 L381.86 547.41 L381.89 549.00 L381.86 550.56 L381.77 552.11 L381.62 553.64 L381.42 555.14 L381.16 556.60 L380.85 558.03 L380.47 559.41 L380.05 560.76 L379.57 562.05 L379.04 563.29 L378.47 564.47 L377.84 565.59 L377.17 566.65 L376.45 567.65 L375.69 568.57 L374.89 569.43 L374.06 570.20" stroke-width="2.93" />
<path d="M360.60 526.36 L361.26 526.74 L361.92 527.17 L362.56 527.65 L363.20 528.18 L363.82 528.75 L364.43 529.36 L365.02 530.02 L365.59 530.72 L366.14 531.45 L366.67 532.22 L367.18 533.03 L367.67 533.87 L368.12 534.74 L368.56 535.63 L368.96 536.55 L369.33 537.49 L369.68 538.46 L369.99 539.44 L370.27 540.43 L370.52 541.43 L370.74 542.44 L370.92 543.46 L371.06 544.48 L371.17 545.51 L371.25 546.52 L371.29 547.54 L371.29 548.54 L371.26 549.54 L371.19 550.51 L371.09 551.48 L370.95 552.42 L370.78 553.34 L370.58 554.24 L370.34 555.11 L370.06 555.95 L369.76 556.75 L369.42 557.53 L369.05 558.26 L368.66 558.96 L368.23 559.62 L367.78 560.24 L367.30 560.81 L366.80 561.33 L366.27 561.81 L365.72 562.25 L365.16 562.63 L364.57 562.96 L363.97 563.24 L363.35 563.47 L362.72 563.64 L362.07 563.76 L361.42 563.83 L360.76 563.84 L360.09 563.80 L359.42 563.71 L358.74 563.56 L358.06 563.36 L357.39 563.11 L356.72 562.80 L356.05 562.44 L355.39 562.04 L354.74 561.58 L354.10 561.08 L353.47 560.53 L352.86 559.93 L352.26 559.30 L351.68 558.62 L351.12 557.90 L350.58 557.14 L350.06 556.35 L349.56 555.53 L349.09 554.68 L348.64 553.79 L348.23 552.88 L347.84 551.95" stroke-width="1.83" />
<path d="M344.72 553.99 L347.83 551.85 L347.40 550.71 L347.01 549.54 L346.68 548.35 L343.24 549.48 L342.87 547.92 L342.57 546.35 L342.33 544.77 L342.33 544.77 L345.98 544.71 L345.84 543.49 L345.76 542.27 L345.74 541.06 L342.02 540.06 L342.06 538.52 L342.16 537.00 L342.33 535.52 L342.33 535.52 L345.98 537.54 L346.16 536.42 L346.40 535.33 L346.68 534.28 L343.24 531.31 L343.67 530.00 L344.17 528.76 L344.72 527.59 L344.72 527.59 L347.83 531.40 L348.30 530.54 L348.82 529.75 L349.37 529.01 L346.72 524.50 L347.48 523.63 L348.30 522.85 L349.15 522.16 L349.15 522.16 L351.26 527.19 L351.95 526.73 L352.67 526.34 L353.41 526.03 L351.93 520.65 L352.92 520.34 L353.93 520.13 L354.96 520.03 L354.96 520.03 L355.76 525.55 L356.57 525.54 L357.38 525.62 L358.21 525.78 L358.12 520.32 L359.18 520.62 L360.24 521.02 L361.29 521.52" stroke-width="2.07"/>
<line x1="372.40" y1="504.00" x2="372.40" y2="518.50" stroke-width="1.59" />
<path d="M383.87 542.23 L379.68 540.59 L379.93 538.85 L380.28 537.16 L380.74 535.53 L384.65 538.47 L385.07 537.32 L385.56 536.24 L386.11 535.22 L386.11 535.22 L382.70 531.16 L383.54 529.90 L384.46 528.75 L385.46 527.73 L388.16 532.67 L388.95 532.00 L389.79 531.43 L390.67 530.97 L390.67 530.97 L388.84 525.44 L390.07 524.95 L391.34 524.62 L392.64 524.43 L393.50 530.22 L394.49 530.19 L395.48 530.27 L396.48 530.47 L396.48 530.47 L396.64 524.76 L397.98 525.17 L399.31 525.72 L400.61 526.42 L399.43 531.70 L400.37 532.31 L401.29 533.03 L402.17 533.83 L402.17 533.83 L404.30 529.29 L405.43 530.50 L406.50 531.81 L407.50 533.22 L404.55 536.76 L405.24 537.88 L405.86 539.05 L406.42 540.29" stroke-width="2.07"/>
<path d="M381.50 537.00 C381.42 538.50 380.92 543.17 381.00 546.00 C381.08 548.83 381.00 551.42 382.00 554.00 C383.00 556.58 385.10 559.62 387.00 561.50 C388.90 563.38 391.07 564.88 393.40 565.30 C395.73 565.72 398.73 565.22 401.00 564.00 C403.27 562.78 405.58 560.50 407.00 558.00 C408.42 555.50 409.25 552.33 409.50 549.00 C409.75 545.67 408.67 539.83 408.50 538.00" stroke-width="1.95" />
<ellipse cx="391.00" cy="544.50" rx="6.50" ry="11.00" transform="rotate(-15.00 391.00 544.50)" stroke-width="2.20" />
<ellipse cx="393.80" cy="545.00" rx="3.70" ry="9.00" transform="rotate(-15.00 393.80 545.00)" stroke-width="1.83" />
<line x1="393.00" y1="565.50" x2="393.00" y2="582.00" stroke-width="1.59" />
<ellipse cx="471.10" cy="525.71" rx="32.27" ry="51.84" transform="rotate(-16.00 471.10 525.71)" stroke-width="2.07" fill="#fff"/>
<path d="M455.90 478.44 L457.46 477.82 L459.07 477.35 L460.72 477.01 L462.40 476.83 L464.12 476.79 L465.85 476.89 L467.61 477.14 L469.38 477.54 L471.16 478.08 L472.94 478.76 L474.72 479.58 L476.49 480.54 L478.25 481.64 L479.99 482.86 L481.71 484.22 L483.40 485.70" stroke-width="1.46" />
<path d="M451.82 480.25 L453.20 479.45 L454.64 478.77 L456.12 478.24 L457.63 477.83 L459.19 477.56 L460.77 477.42 L462.38 477.43 L464.01 477.56 L465.66 477.84 L467.33 478.24 L469.00 478.79 L470.67 479.46 L472.35 480.26 L474.02 481.20 L475.67 482.25 L477.32 483.43 L478.94 484.73 L480.54 486.15 L482.11 487.68 L483.65 489.31 L485.15 491.05 L486.61 492.88 L488.02 494.81 L489.38 496.83 L490.69 498.93 L491.94 501.10 L493.14 503.34 L494.26 505.65 L495.32 508.01 L496.32 510.42 L497.23 512.88 L498.08 515.38 L498.84 517.90 L499.52 520.45 L500.13 523.01 L500.65 525.58 L501.08 528.15 L501.43 530.72 L501.69 533.27 L501.86 535.80 L501.95 538.31 L501.94 540.78 L501.85 543.21 L501.67 545.59 L501.40 547.91 L501.04 550.18 L500.60 552.38 L500.08 554.50 L499.46 556.54 L498.77 558.50 L498.00 560.37 L497.15 562.14 L496.23 563.81 L495.23 565.37 L494.16 566.82 L493.03 568.16 L491.83 569.38 L490.57 570.48 L489.26 571.46 L487.89 572.31 L486.47 573.02" stroke-width="1.59" />
<path d="M499.15 534.58 L499.27 536.99 L499.31 539.36 L499.27 541.70 L499.14 544.00 L498.93 546.24 L498.63 548.43 L498.25 550.55 L497.79 552.61 L497.25 554.59 L496.64 556.49 L495.94 558.30 L495.17 560.02 L494.33 561.65 L493.41 563.17 L492.43 564.59 L491.39 565.90 L490.28 567.10 L489.11 568.18" stroke-width="1.59" />
<path d="M442.00 507.50 C441.50 507.50 439.75 507.75 439.00 507.50 C438.25 507.25 437.62 507.12 437.50 506.00 C437.38 504.88 437.88 502.12 438.25 500.75 C438.62 499.38 438.62 498.50 439.75 497.75 C440.88 497.00 443.62 497.12 445.00 496.25 C446.38 495.38 447.00 493.75 448.00 492.50 C449.00 491.25 450.00 489.88 451.00 488.75 C452.00 487.62 453.50 486.75 454.00 485.75 C454.50 484.75 453.50 483.38 454.00 482.75 C454.50 482.12 455.00 481.25 457.00 482.00 C459.00 482.75 464.12 486.62 466.00 487.25 C467.88 487.88 467.38 486.12 468.25 485.75 C469.12 485.38 470.62 485.38 471.25 485.00 C471.88 484.62 472.25 484.00 472.00 483.50 C471.75 483.00 470.12 482.25 469.75 482.00" stroke-width="1.83" />
<path d="M436.75 509.00 C436.75 511.00 436.12 518.75 436.75 521.00 C437.38 523.25 439.88 522.25 440.50 522.50" stroke-width="1.71" />
<path d="M449.50 512.75 C450.08 512.96 451.88 513.12 453.00 514.00 C454.12 514.88 455.71 517.33 456.25 518.00" stroke-width="1.71" />
<line x1="481.75" y1="492.50" x2="487.00" y2="493.25" stroke-width="1.59" />
<path d="M458.50 517.25 C459.38 516.38 461.88 512.25 463.75 512.00 C465.62 511.75 468.21 514.08 469.75 515.75 C471.29 517.42 472.29 519.62 473.00 522.00 C473.71 524.38 474.00 527.50 474.00 530.00 C474.00 532.50 473.92 535.58 473.00 537.00 C472.08 538.42 469.75 538.62 468.50 538.50 C467.25 538.38 466.00 536.62 465.50 536.25" stroke-width="1.95" />
<path d="M470.75 520.50 C471.00 521.75 472.38 525.75 472.25 528.00 C472.12 530.25 470.38 533.00 470.00 534.00" stroke-width="1.83" />
<path d="M476.00 516.00 C475.75 518.33 474.75 526.00 474.50 530.00 C474.25 534.00 474.00 536.71 474.50 540.00 C475.00 543.29 476.50 545.62 477.50 549.75 C478.50 553.88 479.62 561.38 480.50 564.75 C481.38 568.12 482.00 569.88 482.75 570.00 C483.50 570.12 484.75 567.00 485.00 565.50 C485.25 564.00 484.50 565.50 484.25 561.00 C484.00 556.50 483.75 545.25 483.50 538.50 C483.25 531.75 483.17 524.17 482.75 520.50 C482.33 516.83 481.67 517.54 481.00 516.50 C480.33 515.46 479.58 514.33 478.75 514.25 C477.92 514.17 476.46 515.71 476.00 516.00" stroke-width="1.95" />
<path d="M461.00 537.75 C461.50 539.50 463.62 545.62 464.00 548.25 C464.38 550.88 463.00 551.62 463.25 553.50 C463.50 555.38 464.12 557.75 465.50 559.50 C466.88 561.25 470.25 562.50 471.50 564.00 C472.75 565.50 473.25 567.50 473.00 568.50 C472.75 569.50 470.50 569.75 470.00 570.00" stroke-width="1.83" />
<path d="M446.00 547.50 C447.00 549.25 450.00 555.50 452.00 558.00 C454.00 560.50 455.75 560.75 458.00 562.50 C460.25 564.25 463.12 567.25 465.50 568.50 C467.88 569.75 471.12 569.75 472.25 570.00" stroke-width="1.71" />
<path d="M452.75 541.50 C453.25 543.62 454.88 551.00 455.75 554.25 C456.62 557.50 457.62 559.88 458.00 561.00" stroke-width="1.71" />
<path d="M456.38 484.70 a1.72 1.95 0 1 1 0.30 3.53" stroke-width="1.95" />
<path d="M471.38 488.45 a1.72 1.95 0 1 1 0.30 3.53" stroke-width="1.95" />
<path d="M478.88 495.95 a1.72 1.95 0 1 1 0.30 3.53" stroke-width="1.95" />
<path d="M487.12 500.45 a1.72 1.95 0 1 1 0.30 3.53" stroke-width="1.95" />
<path d="M445.12 499.70 a1.72 1.95 0 1 1 0.30 3.53" stroke-width="1.95" />
<path d="M445.12 510.20 a1.72 1.95 0 1 1 0.30 3.53" stroke-width="1.95" />
<path d="M486.38 519.20 a1.72 1.95 0 1 1 0.30 3.53" stroke-width="1.95" />
<path d="M490.88 530.45 a1.72 1.95 0 1 1 0.30 3.53" stroke-width="1.95" />
<path d="M495.62 529.95 a1.72 1.95 0 1 1 0.30 3.53" stroke-width="1.95" />
<path d="M485.88 547.20 a1.72 1.95 0 1 1 0.30 3.53" stroke-width="1.95" />
<path d="M494.88 545.70 a1.72 1.95 0 1 1 0.30 3.53" stroke-width="1.95" />
<path d="M486.62 558.45 a1.72 1.95 0 1 1 0.30 3.53" stroke-width="1.95" />
<path d="M469.38 554.70 a1.72 1.95 0 1 1 0.30 3.53" stroke-width="1.95" />
<path d="M452.12 551.70 a1.72 1.95 0 1 1 0.30 3.53" stroke-width="1.95" />
<path d="M414.4 527.5 L436 523.25 L452 519.5 L466 516.5 L470.75 520.5 L472.25 528 L468.5 534.75 L446 540 L418.7 545.6 Z" stroke-width="0.00" fill="#fff" stroke="none"/>
<path d="M414.40 527.50 C418.00 526.79 429.73 524.58 436.00 523.25 C442.27 521.92 447.00 520.62 452.00 519.50 C457.00 518.38 463.67 517.00 466.00 516.50" stroke-width="1.95" />
<path d="M418.70 545.60 C423.25 544.67 437.70 541.81 446.00 540.00 C454.30 538.19 464.75 535.62 468.50 534.75" stroke-width="1.95" />
<ellipse cx="418.00" cy="536.50" rx="5.30" ry="9.70" transform="rotate(-12.00 418.00 536.50)" stroke-width="2.44" fill="#fff"/>
<ellipse cx="417.20" cy="536.80" rx="2.80" ry="7.00" transform="rotate(-12.00 417.20 536.80)" stroke-width="3.17" />
<line x1="424.00" y1="528.50" x2="424.00" y2="545.00" stroke-width="1.22" />
<line x1="425.70" y1="528.20" x2="425.70" y2="544.70" stroke-width="1.22" />
<line x1="427.40" y1="527.90" x2="427.40" y2="544.40" stroke-width="1.22" />
<line x1="429.10" y1="527.60" x2="429.10" y2="544.10" stroke-width="1.22" />
<line x1="430.80" y1="527.30" x2="430.80" y2="543.80" stroke-width="1.22" />
<line x1="432.50" y1="527.00" x2="432.50" y2="543.50" stroke-width="1.22" />
<line x1="485.25" y1="575.00" x2="485.25" y2="592.50" stroke-width="1.59" />
<g transform="translate(505.00 474.00) rotate(162.00)">
<rect x="7.00" y="-2.60" width="13.00" height="5.20" rx="1.5" stroke-width="1.87" fill="#fff"/>
<line x1="9.50" y1="-1.60" x2="9.50" y2="1.60" stroke-width="1.10" />
<line x1="12.12" y1="-1.60" x2="12.12" y2="1.60" stroke-width="1.10" />
<line x1="14.75" y1="-1.60" x2="14.75" y2="1.60" stroke-width="1.10" />
<line x1="17.38" y1="-1.60" x2="17.38" y2="1.60" stroke-width="1.10" />
<path d="M1 -4.40 Q-1 0 1 4.40 L8.00 3.74 Q9.50 0 8.00 -3.74 Z" stroke-width="2.20" fill="#fff"/>
<line x1="3.60" y1="-3.80" x2="3.60" y2="3.80" stroke-width="1.22" />
</g>
<path d="M490 455 V473" stroke-width="1.59" stroke-dasharray="6 2"/>
<ellipse cx="538.50" cy="507.50" rx="9.40" ry="17.20" transform="rotate(-24.00 538.50 507.50)" stroke-width="2.81" />
<ellipse cx="539.00" cy="507.50" rx="7.00" ry="14.60" transform="rotate(-24.00 539.00 507.50)" stroke-width="1.59" />
<ellipse cx="557.10" cy="503.20" rx="9.80" ry="18.00" transform="rotate(-24.00 557.10 503.20)" stroke-width="2.81" />
<ellipse cx="557.60" cy="503.20" rx="7.40" ry="15.40" transform="rotate(-24.00 557.60 503.20)" stroke-width="1.59" />
<ellipse cx="585.50" cy="495.20" rx="8.40" ry="14.20" transform="rotate(-22.00 585.50 495.20)" stroke-width="2.20" />
<ellipse cx="586.00" cy="495.60" rx="5.60" ry="10.80" transform="rotate(-22.00 586.00 495.60)" stroke-width="1.59" />
<line x1="561.25" y1="476.00" x2="561.25" y2="486.50" stroke-width="1.59" />
<line x1="543.00" y1="524.00" x2="543.00" y2="539.50" stroke-width="1.59" />
<line x1="591.00" y1="509.50" x2="591.00" y2="523.00" stroke-width="1.59" />
</g>
<g>
<rect x="538.8" y="455.85" width="49" height="19.95" fill="#80b3fb"/>
<rect x="520.7" y="539.35" width="49" height="19.55" fill="#80b3fb"/>
<text transform="translate(245.20 87.48) scale(0.90 1)" x="0" y="0" textLength="54.50" stroke-width="0.55" stroke="#000" lengthAdjust="spacing" font-family="Liberation Sans, sans-serif" font-weight="bold" font-size="14.00" fill="#000">32101A</text>
<text transform="translate(479.40 83.50) scale(0.90 1)" x="0" y="0" textLength="44.44" stroke-width="0.55" stroke="#000" lengthAdjust="spacing" font-family="Liberation Sans, sans-serif" font-weight="bold" font-size="14.00" fill="#000">32000</text>
<text transform="translate(154.30 168.60) scale(0.90 1)" x="0" y="0" textLength="54.94" stroke-width="0.55" stroke="#000" lengthAdjust="spacing" font-family="Liberation Sans, sans-serif" font-weight="bold" font-size="14.00" fill="#000">32101A</text>
<text transform="translate(355.00 145.00) scale(0.90 1)" x="0" y="0" textLength="44.44" stroke-width="0.55" stroke="#000" lengthAdjust="spacing" font-family="Liberation Sans, sans-serif" font-weight="bold" font-size="14.00" fill="#000">32117</text>
<text transform="translate(194.00 292.00) scale(0.90 1)" x="0" y="0" textLength="44.44" stroke-width="0.55" stroke="#000" lengthAdjust="spacing" font-family="Liberation Sans, sans-serif" font-weight="bold" font-size="14.00" fill="#000">32116</text>
<text transform="translate(389.90 298.48) scale(0.90 1)" x="0" y="0" textLength="54.89" stroke-width="0.55" stroke="#000" lengthAdjust="spacing" font-family="Liberation Sans, sans-serif" font-weight="bold" font-size="14.00" fill="#000">32101C</text>
<text transform="translate(273.00 338.00) scale(0.90 1)" x="0" y="0" textLength="43.00" stroke-width="0.55" stroke="#000" lengthAdjust="spacing" font-family="Liberation Sans, sans-serif" font-weight="bold" font-size="14.00" fill="#000">32101</text>
<text transform="translate(450.75 447.60) scale(0.90 1)" x="0" y="0" textLength="111.11" stroke-width="0.55" stroke="#000" lengthAdjust="spacing" font-family="Liberation Sans, sans-serif" font-weight="bold" font-size="11.80" fill="#000">90105–06126 (13)</text>
<text transform="translate(271.00 479.00) scale(0.90 1)" x="0" y="0" textLength="53.33" stroke-width="0.55" stroke="#000" lengthAdjust="spacing" font-family="Liberation Sans, sans-serif" font-weight="bold" font-size="14.00" fill="#000">35301B</text>
<text transform="translate(351.00 502.68) scale(0.90 1)" x="0" y="0" textLength="44.33" stroke-width="0.55" stroke="#000" lengthAdjust="spacing" font-family="Liberation Sans, sans-serif" font-weight="bold" font-size="14.00" fill="#000">35322</text>
<text transform="translate(154.30 523.00) scale(0.90 1)" x="0" y="0" textLength="55.33" stroke-width="0.55" stroke="#000" lengthAdjust="spacing" font-family="Liberation Sans, sans-serif" font-weight="bold" font-size="14.00" fill="#000">35301F</text>
<text transform="translate(573.25 532.32) scale(0.90 1)" x="0" y="0" textLength="54.94" stroke-width="0.55" stroke="#000" lengthAdjust="spacing" font-family="Liberation Sans, sans-serif" font-weight="bold" font-size="14.00" fill="#000">35307C</text>
<text transform="translate(374.00 593.00) scale(0.90 1)" x="0" y="0" textLength="42.56" stroke-width="0.55" stroke="#000" lengthAdjust="spacing" font-family="Liberation Sans, sans-serif" font-weight="bold" font-size="14.00" fill="#000">35321</text>
<text transform="translate(463.80 604.16) scale(0.90 1)" x="0" y="0" textLength="44.67" stroke-width="0.55" stroke="#000" lengthAdjust="spacing" font-family="Liberation Sans, sans-serif" font-weight="bold" font-size="14.00" fill="#000">35370</text>
<text transform="translate(193.25 642.60) scale(0.90 1)" x="0" y="0" textLength="54.72" stroke-width="0.55" stroke="#000" lengthAdjust="spacing" font-family="Liberation Sans, sans-serif" font-weight="bold" font-size="14.00" fill="#000">35301A</text>
<text transform="translate(217.75 676.32) scale(0.90 1)" x="0" y="0" textLength="43.39" stroke-width="0.55" stroke="#000" lengthAdjust="spacing" font-family="Liberation Sans, sans-serif" font-weight="bold" font-size="14.00" fill="#000">35301</text>
<text transform="translate(612.00 779.40) scale(0.90 1)" x="0" y="0" textLength="53.33" stroke-width="0.55" stroke="#000" lengthAdjust="spacing" font-family="Liberation Sans, sans-serif" font-weight="bold" font-size="14.60" fill="#000">350003</text>
<text transform="translate(542.55 470.48) scale(0.90 1)" x="0" y="0" textLength="44.39" stroke-width="0.55" stroke="#0a2d72" lengthAdjust="spacing" font-family="Liberation Sans, sans-serif" font-weight="bold" font-size="14.60" fill="#0a2d72">35617</text>
<text transform="translate(524.00 554.34) scale(0.90 1)" x="0" y="0" textLength="44.89" stroke-width="0.55" stroke="#0a2d72" lengthAdjust="spacing" font-family="Liberation Sans, sans-serif" font-weight="bold" font-size="14.60" fill="#0a2d72">35617</text>
</g>
<rect x="283" y="444.2" width="1.6" height="1.6" fill="#666"/><rect x="127" y="692.2" width="1.6" height="1.8" fill="#222"/><rect x="406" y="771.8" width="1.5" height="1.7" fill="#666"/>
</svg>
</body></html>
